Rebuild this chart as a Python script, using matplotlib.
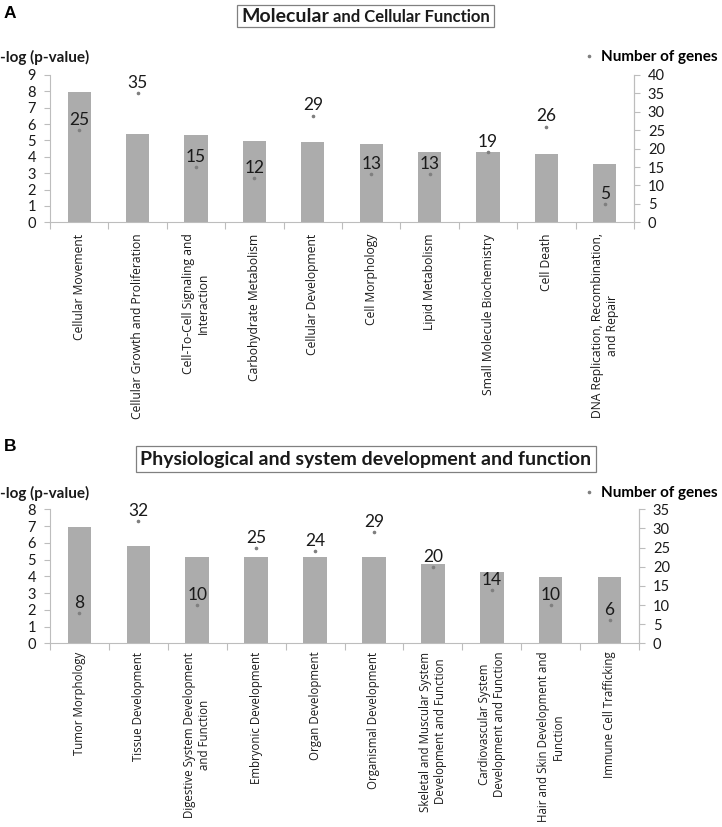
import matplotlib
matplotlib.use("Agg")
import matplotlib.pyplot as plt
import numpy as np
from matplotlib.lines import Line2D
from matplotlib.patches import Rectangle

# ---------------- data ----------------
cats_a = ["Cellular Movement", "Cellular Growth and Proliferation",
          "Cell-To-Cell Signaling and\nInteraction", "Carbohydrate Metabolism",
          "Cellular Development", "Cell Morphology", "Lipid Metabolism",
          "Small Molecule Biochemistry", "Cell Death",
          "DNA Replication, Recombination,\nand Repair"]
logp_a = [7.95, 5.40, 5.33, 4.97, 4.89, 4.78, 4.27, 4.27, 4.17, 3.54]
genes_a = [25, 35, 15, 12, 29, 13, 13, 19, 26, 5]

cats_b = ["Tumor Morphology", "Tissue Development",
          "Digestive System Development\nand Function", "Embryonic Development",
          "Organ Development", "Organismal Development",
          "Skeletal and Muscular System\nDevelopment and Function",
          "Cardiovascular System\nDevelopment and Function",
          "Hair and Skin Development and\nFunction", "Immune Cell Trafficking"]
logp_b = [6.92, 5.83, 5.13, 5.13, 5.13, 5.13, 4.76, 4.27, 3.98, 3.98]
genes_b = [8, 32, 10, 25, 24, 29, 20, 14, 10, 6]

title_a_big = "Molecular"
title_a_rest = " and Cellular Function"
title_b = "Physiological and system development and function"

# ---------------- style ----------------
NARROW = ["Lato", "DejaVu Sans"]
LABELF = ["Open Sans", "DejaVu Sans"]
BAR = "#acacac"
DOT = "#7f7f7f"
SPINE = "#bdbdbd"
TXT = "#1a1a1a"

W, H = 722, 827
fig = plt.figure(figsize=(W / 100, H / 100), dpi=100)


def px(x, y):
    return x / W, 1 - y / H


def panel(rect, cats, logp, genes, lmax, rmax, labsize, labpad):
    ax = fig.add_axes(rect)
    x = np.arange(len(cats))
    ax.bar(x, logp, width=0.4, color=BAR, zorder=2)
    ax.set_xlim(-0.5, len(cats) - 0.5)
    ax.set_ylim(0, lmax)
    ax.set_yticks(np.arange(0, lmax + 1, 1))
    ax.set_xticks(x)
    ax.set_xticklabels(cats, rotation=90, fontsize=labsize, family=LABELF,
                       color=TXT, va="top", ha="center", linespacing=1.15)
    ax.set_xticks(np.arange(-0.5, len(cats) + 0.5, 1), minor=True)
    ax.tick_params(axis="x", which="major", length=0, pad=labpad)
    ax.tick_params(axis="x", which="minor", length=5, color=SPINE, width=0.8)
    ax.tick_params(axis="y", length=4, color=SPINE, width=0.8, pad=6,
                   labelsize=10.5, labelcolor=TXT)
    for lab in ax.get_yticklabels():
        lab.set_family(NARROW)
    ax.spines["top"].set_visible(False)
    for s in ["left", "bottom", "right"]:
        ax.spines[s].set_color(SPINE)
        ax.spines[s].set_linewidth(0.8)

    ax2 = ax.twinx()
    ax2.set_ylim(0, rmax)
    ax2.set_yticks(np.arange(0, rmax + 1, 5))
    ax2.tick_params(axis="y", length=4, color=SPINE, width=0.8, pad=6,
                    labelsize=10.5, labelcolor=TXT)
    for lab in ax2.get_yticklabels():
        lab.set_family(NARROW)
    ax2.spines["top"].set_visible(False)
    ax2.spines["right"].set_color(SPINE)
    ax2.spines["right"].set_linewidth(0.8)
    ax2.spines["left"].set_visible(False)
    ax2.spines["bottom"].set_visible(False)
    ax2.plot(x, genes, linestyle="none", marker="o", markersize=1.6,
             color=DOT, zorder=3)
    for xi, g in zip(x, genes):
        ax2.annotate(str(g), (xi, g), xytext=(0, 1.5), textcoords="offset points",
                     ha="center", va="bottom", fontsize=12.5, family=NARROW,
                     color=TXT)
    return ax, ax2


# Panel A
l, b = px(50, 222.3)
axA, axA2 = panel([l, b, 584 / W, 147.3 / H], cats_a, logp_a, genes_a, 9, 40,
                  8.7, 8)
# Panel B
l, b = px(50, 643.3)
axB, axB2 = panel([l, b, 589 / W, 134 / H], cats_b, logp_b, genes_b, 8, 35,
                  8.3, 6)

# panel letters
fig.text(*px(4, 13), "A", fontsize=12.5, fontweight="bold",
         family=["Liberation Sans", "DejaVu Sans"], va="center", ha="left")
fig.text(*px(4, 447), "B", fontsize=12.5, fontweight="bold",
         family=["Liberation Sans", "DejaVu Sans"], va="center", ha="left")

# axis titles
for yy in (57, 493):
    fig.text(*px(0, yy), "-log (p-value)", fontsize=11, fontweight="bold",
             family=NARROW, va="center", ha="left", color=TXT)

# legends
for ax2, yy in ((axA2, 57), (axB2, 493)):
    h = Line2D([], [], linestyle="none", marker="o", markersize=1.6, color=DOT)
    ax2.legend([h], ["Number of genes"], loc="center right",
               bbox_to_anchor=px(718, yy), bbox_transform=fig.transFigure,
               frameon=False, handlelength=0.6, handletextpad=0.5,
               borderpad=0, borderaxespad=0,
               prop={"family": NARROW, "weight": "bold", "size": 11})

# titles with boxes
tA1 = fig.text(*px(241, 16), title_a_big, fontsize=14, fontweight="bold",
               family=NARROW, va="center", ha="left", color=TXT)
fig.canvas.draw()
bbA = tA1.get_window_extent()
tA2 = fig.text(bbA.x1 / W, 1 - 16.5 / H, title_a_rest, fontsize=12,
               fontweight="bold", family=NARROW, va="center", ha="left",
               color=TXT)
fig.canvas.draw()
bb2 = tA2.get_window_extent()
x0 = bbA.x0 - 4
x1 = bb2.x1 + 4
fig.add_artist(Rectangle((x0 / W, 1 - 27 / H), (x1 - x0) / W, 22 / H,
                         transform=fig.transFigure, facecolor="none",
                         edgecolor="#808080", linewidth=0.9))

bx = dict(boxstyle="square,pad=0.22", facecolor="white", edgecolor="#808080",
          linewidth=0.9)
fig.text(*px(366, 459), title_b, fontsize=14, fontweight="bold", family=NARROW,
         va="center", ha="center", color=TXT, bbox=bx)

fig.savefig("out.png", dpi=100)
